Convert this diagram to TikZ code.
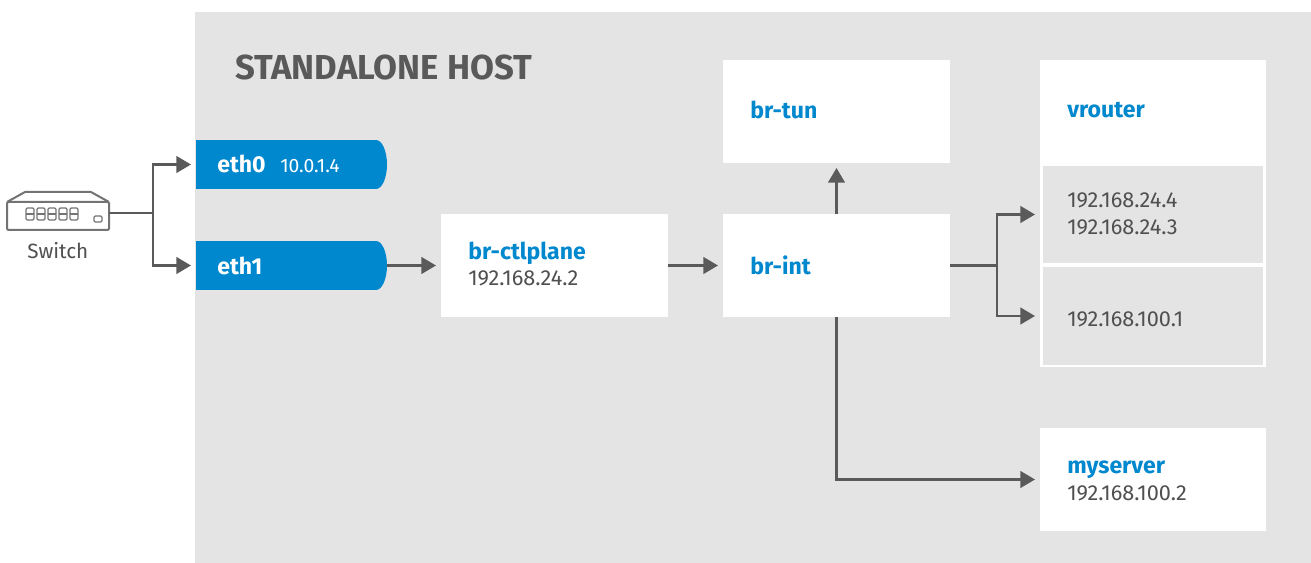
\documentclass[tikz,border=0pt]{standalone}
\usepackage{fontspec}
\setmainfont{Fira Sans}
\usepackage{tikz}
\usetikzlibrary{arrows.meta}
\usepackage{xcolor}
\definecolor{hostgrey}{HTML}{E4E4E4}
\definecolor{linegrey}{HTML}{5A5A5A}
\definecolor{textgrey}{HTML}{505050}
\definecolor{rhblue}{HTML}{0088CE}

\begin{document}
\begin{tikzpicture}[x=0.75pt,y=0.75pt,yscale=-1,xscale=1,
  box/.style={fill=white, inner sep=0pt, outer sep=0pt, minimum width=170.25pt, minimum height=77.25pt},
  subbox/.style={fill=hostgrey, inner sep=0pt, outer sep=0pt, minimum width=165pt},
  iface/.style={fill=rhblue, inner sep=0pt, outer sep=0pt, minimum width=135pt, minimum height=36.75pt},
  devlbl/.style={anchor=base west, inner sep=0pt, text=rhblue, font=\bfseries\fontsize{17.3}{20}\selectfont},
  addr/.style={anchor=base west, inner sep=0pt, text=textgrey, font=\fontsize{16.3}{19}\selectfont},
  link/.style={draw=linegrey, line width=1.8pt},
  arr/.style={link, -{Triangle[length=11pt,width=12.5pt]}, shorten >=3.75pt},
]
\useasboundingbox (0,0) rectangle (1311,563);

%Shape: Rectangle [host]
\fill[hostgrey] (195,12) rectangle (1311,563);

%Shape: Switch
\draw[draw=gray!110, line width=1.5pt, rounded corners=1pt] (7,202) rectangle (109,230);
\draw[draw=gray!110, line width=1.5pt, line join=round] (7,202) -- (25,192) -- (91,192) -- (109,202);
\foreach \i in {0,...,4} {
  \draw[draw=gray!110, line width=0.9pt, rounded corners=1pt] (26+\i*11,208) rectangle ++(8,12);
  \draw[draw=gray!110, line width=0.9pt] (26+\i*11,214) -- ++(8,0);
}
\draw[draw=gray!110, line width=0.9pt, rounded corners=1pt] (94,216) rectangle (102,222);

%Shape: Interfaces
\node[iface] (eth0) at (286,164.5) {};
\fill[rhblue] (eth0.north east) .. controls +(6.07,0) and +(0,-13.5) .. ++(11,24.5) .. controls +(0,13.5) and +(6.07,0) .. ++(-11,24.5) -- cycle;
\node[iface] (eth1) at (286,265.5) {};
\fill[rhblue] (eth1.north east) .. controls +(6.07,0) and +(0,-13.5) .. ++(11,24.5) .. controls +(0,13.5) and +(6.07,0) .. ++(-11,24.5) -- cycle;

%Shape: Bridges
\node[box] (brtun) at (836.5,111.5) {};
\node[box] (ctl) at (554.5,265.5) {};
\node[box] (brint) at (836.5,265.5) {};
\node[box, minimum width=169.5pt, minimum height=230.25pt] (vrouter) at (1153,213.5) {};
\node[subbox, minimum height=72.75pt] (vr1) at (1153,214.5) {};
\node[subbox, minimum height=73.5pt] (vr2) at (1153,316) {};
\node[box, minimum width=169.5pt] (myserver) at (1153,479.5) {};

%Straight Lines
\coordinate (sw out) at (109,213);
\coordinate (sw fork) at (153,213);
\coordinate (vr fork) at (997,265.5);
\draw[arr] (sw out) -- (sw fork) |- (eth1.west);
\draw[arr] ([yshift=5.25pt]sw fork) |- (eth0.west);
\draw[arr] ([xshift=8.25pt]eth1.east) -- (ctl);
\draw[arr] (ctl) -- (brint);
\draw[arr] (brint) -- (brtun);
\draw[link] (brint.east) -- (vr fork);
\draw[arr] (vr fork) |- (vrouter.west |- vr2.west);
\draw[arr] ([yshift=6.75pt]vr fork) |- (vrouter.west |- vr1.west);
\draw[arr] (brint) |- (myserver);

% Text Node
\node[anchor=base west, inner sep=0pt, text=textgrey!95, font=\bfseries\fontsize{26}{31}\selectfont] (host) at (235,80) {STANDALONE HOST};
\node[addr, font=\fontsize{15.5}{18}\selectfont] (swlbl) at (27,258) {Switch};
\node[devlbl, text=white] (eth0lbl) at (217,173) {eth0};
\node[addr, text=white, font=\fontsize{14.5}{17}\selectfont] (eth0ip) at (280,173) {10.0.1.4};
\node[devlbl, text=white] (eth1lbl) at (217,274) {eth1};
\node[devlbl] (brtunlbl) at (750,119) {br-tun};
\node[devlbl] (ctllbl) at (468,260) {br-ctlplane};
\node[addr] (ctlip) at (468,286) {192.168.24.2};
\node[devlbl] (brintlbl) at (750,274) {br-int};
\node[devlbl] (vrlbl) at (1067,118) {vrouter};
\node[addr] (vrip1) at (1067,208) {192.168.24.4};
\node[addr] (vrip2) at (1067,234) {192.168.24.3};
\node[addr] (vrip3) at (1067,326) {192.168.100.1};
\node[devlbl] (mslbl) at (1067,473) {myserver};
\node[addr] (msip) at (1067,500) {192.168.100.2};

\end{tikzpicture}
\end{document}
